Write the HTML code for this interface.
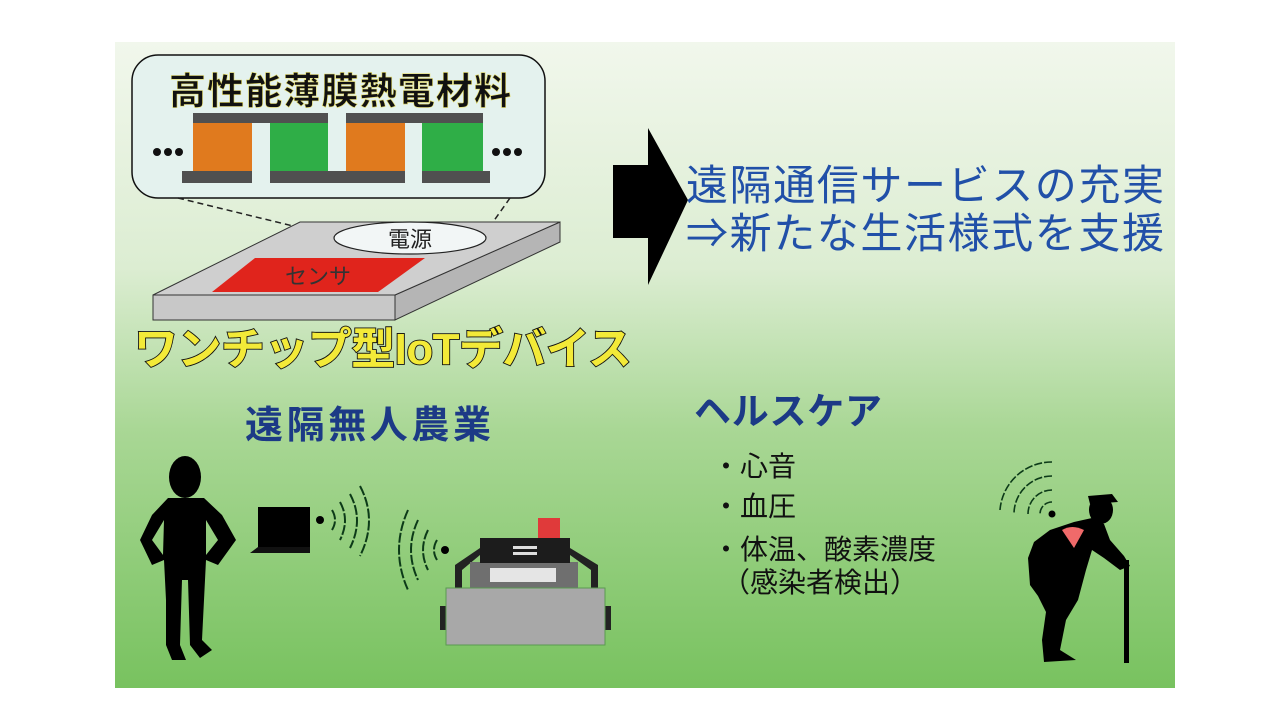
<!DOCTYPE html>
<html><head><meta charset="utf-8"><style>
html,body{margin:0;padding:0;background:#fff;width:1280px;height:720px;overflow:hidden}
svg{display:block}
text{font-family:"Liberation Sans","Noto Sans CJK JP",sans-serif}
</style></head><body>
<svg width="1280" height="720" viewBox="0 0 1280 720" xmlns="http://www.w3.org/2000/svg">
<defs>
<linearGradient id="bg" x1="0" y1="0" x2="0" y2="1">
<stop offset="0" stop-color="#f1f7ec"/>
<stop offset="0.35" stop-color="#dcedd2"/>
<stop offset="0.6" stop-color="#a9d795"/>
<stop offset="1" stop-color="#78c25f"/>
</linearGradient>
</defs>
<rect x="115" y="42" width="1060" height="646" fill="url(#bg)"/>

<!-- bubble -->
<rect x="132" y="55" width="413" height="143" rx="26" fill="#e4f2ee" stroke="#111" stroke-width="1.5"/>
<text x="340" y="104" font-size="37" font-weight="bold" text-anchor="middle" fill="#111" stroke="#e8e070" stroke-width="0.6" textLength="342">高性能薄膜熱電材料</text>
<rect x="193" y="113" width="135" height="10" fill="#505050"/>
<rect x="346" y="113" width="137" height="10" fill="#505050"/>
<rect x="193" y="123" width="59" height="48" fill="#e07a1e"/>
<rect x="270" y="123" width="58" height="48" fill="#2fae47"/>
<rect x="346" y="123" width="59" height="48" fill="#e07a1e"/>
<rect x="422" y="123" width="61" height="48" fill="#2fae47"/>
<rect x="182" y="171" width="70" height="12" fill="#505050"/>
<rect x="270" y="171" width="135" height="12" fill="#505050"/>
<rect x="422" y="171" width="68" height="12" fill="#505050"/>
<g fill="#111"><circle cx="157" cy="152" r="4"/><circle cx="168" cy="152" r="4"/><circle cx="179" cy="152" r="4"/>
<circle cx="496" cy="152" r="4"/><circle cx="507" cy="152" r="4"/><circle cx="518" cy="152" r="4"/></g>
<line x1="178" y1="198" x2="330" y2="235" stroke="#222" stroke-width="1.5" stroke-dasharray="6,4"/>
<line x1="510" y1="198" x2="486" y2="232" stroke="#222" stroke-width="1.5" stroke-dasharray="6,4"/>

<!-- chip -->
<polygon points="153,295 395,295 395,320 153,320" fill="#c8c8c8" stroke="#333" stroke-width="1"/>
<polygon points="395,295 560,222 560,242 395,320" fill="#b5b5b5" stroke="#333" stroke-width="1"/>
<polygon points="300,222 560,222 395,295 153,295" fill="#cfcfcf" stroke="#333" stroke-width="1"/>
<ellipse cx="410" cy="238" rx="76" ry="16" fill="#f2f6f6" stroke="#222" stroke-width="1.2"/>
<text x="410" y="247" font-size="22" text-anchor="middle" fill="#222">電源</text>
<polygon points="255,258 425,258 378,292 212,292" fill="#e0241c"/>
<text x="318" y="284" font-size="22" text-anchor="middle" fill="#333">センサ</text>
<text x="383" y="364" font-size="44" font-weight="bold" text-anchor="middle" fill="#f3ea38" stroke="#111" stroke-width="1.8" paint-order="stroke" textLength="498">ワンチップ型IoTデバイス</text>

<!-- arrow -->
<polygon points="613,165 648,165 648,128 688,200 648,285 648,238 613,238" fill="#000"/>

<text x="686" y="200" font-size="42" fill="#2150a8" textLength="478">遠隔通信サービスの充実</text>
<text x="686" y="248" font-size="42" fill="#2150a8" textLength="478">⇒新たな生活様式を支援</text>

<text x="245" y="438" font-size="38" font-weight="bold" fill="#1c3a86" textLength="246">遠隔無人農業</text>
<text x="694" y="424" font-size="37" font-weight="bold" fill="#1c3a86" textLength="188">ヘルスケア</text>
<g font-size="28" fill="#111">
<text x="712" y="476">・心音</text>
<text x="712" y="516">・血圧</text>
<text x="712" y="559">・体温、酸素濃度</text>
<text x="722" y="592">（感染者検出）</text>
</g>

<!-- standing person -->
<g fill="#000">
<ellipse cx="185" cy="477" rx="16" ry="21"/>
<path fill-rule="evenodd" d="M168,498 L204,498 L222,515 L236,540 L218,565 L206,560 L204,600 L202,640 L212,650 L200,658 L190,645 L188,580 L182,580 L180,645 L186,660 L172,660 L166,645 L166,600 L164,560 L152,565 L140,540 L152,515 Z M152,540 L163,555 L164,520 Z M218,540 L206,555 L206,520 Z"/>
</g>
<!-- laptop -->
<rect x="258" y="507" width="52" height="40" fill="#000"/>
<polygon points="250,553 310,553 310,547 258,547" fill="#111"/>
<circle cx="320" cy="520" r="4" fill="#000"/>
<g fill="none" stroke="#0c3a18" stroke-width="2" stroke-dasharray="10,2">
<path d="M332,510 Q338,520 332,530"/>
<path d="M340,502 Q350,520 340,540"/>
<path d="M350,494 Q364,520 350,548"/>
<path d="M360,486 Q378,520 360,556"/>
</g>
<circle cx="445" cy="550" r="4" fill="#000"/>
<g fill="none" stroke="#0c3a18" stroke-width="2" stroke-dasharray="10,2">
<path d="M437,540 Q431,550 437,560"/>
<path d="M428,530 Q418,550 428,570"/>
<path d="M418,520 Q404,550 418,580"/>
<path d="M408,510 Q390,550 408,590"/>
</g>
<!-- robot -->
<rect x="538" y="518" width="22" height="20" fill="#e03a3a"/>
<polygon points="455,565 480,548 480,555 462,570 462,590 455,590" fill="#222"/>
<polygon points="598,565 570,548 570,555 591,570 591,590 598,590" fill="#222"/>
<rect x="470" y="562" width="108" height="28" fill="#6f6f6f"/>
<rect x="490" y="568" width="66" height="14" fill="#e5e5e5"/>
<rect x="480" y="538" width="90" height="25" fill="#1c1c1c"/>
<rect x="513" y="546" width="24" height="3" fill="#ddd"/><rect x="513" y="552" width="24" height="3" fill="#ddd"/>
<rect x="440" y="606" width="7" height="24" fill="#222"/>
<rect x="604" y="606" width="7" height="24" fill="#222"/>
<rect x="446" y="588" width="159" height="57" fill="#a8a8a8" stroke="#5a9a50" stroke-width="1"/>

<!-- elderly -->
<circle cx="1052" cy="514" r="3.5" fill="#000"/>
<g fill="none" stroke="#0c3a18" stroke-width="1.6" stroke-dasharray="8,2">
<path d="M1052,502 A12,12 0 0 0 1040,514"/>
<path d="M1052,490 A24,24 0 0 0 1028,514"/>
<path d="M1052,476 A38,38 0 0 0 1014,514"/>
<path d="M1052,462 A52,52 0 0 0 1000,510"/>
</g>
<g fill="#000">
<ellipse cx="1101" cy="510" rx="12" ry="14"/>
<path d="M1088,496 L1112,494 L1118,502 L1090,504 Z"/>
<path d="M1092,518 L1104,524 L1110,540 L1124,556 L1130,566 L1120,570 L1104,558 L1092,550 L1086,570 L1078,600 L1066,620 L1060,650 L1076,660 L1044,662 L1042,640 L1046,612 L1038,596 L1030,585 L1028,558 L1034,542 L1050,530 L1074,522 Z"/>
<rect x="1124" y="560" width="5" height="103"/>
</g>
<path d="M1062,530 Q1072,524 1084,530 L1074,548 Z" fill="#f06a6a"/>
</svg>
</body></html>
